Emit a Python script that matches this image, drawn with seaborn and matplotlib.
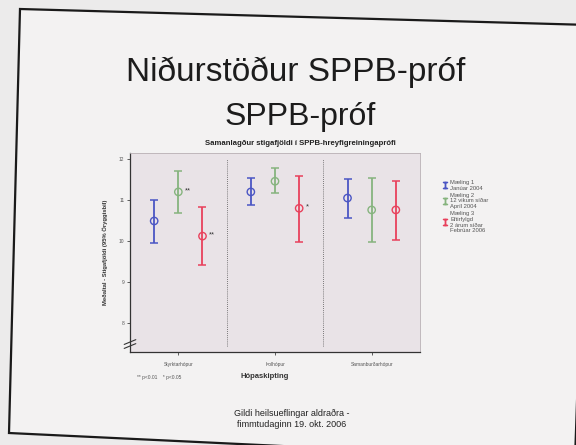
import seaborn as sns
import matplotlib.pyplot as plt
import pandas as pd
from matplotlib.lines import Line2D

# data
groups = ["Styrktarhópur", "Þolhópur", "Samanburðarhópur"]
series = ["Mæling 1\nJanúar 2004",
          "Mæling 2\n12 vikum síðar\nApríl 2004",
          "Mæling 3\nEftirfylgd\n2 árum síðar\nFebrúar 2006"]
means_1 = [10.49, 11.20, 11.05]
low_1 = [9.95, 10.88, 10.56]
high_1 = [11.00, 11.54, 11.51]
means_2 = [11.20, 11.46, 10.76]
low_2 = [10.68, 11.17, 9.98]
high_2 = [11.70, 11.78, 11.54]
means_3 = [10.12, 10.80, 10.76]
low_3 = [9.42, 9.98, 10.02]
high_3 = [10.83, 11.58, 11.46]
stars = {(0, 1): "**", (0, 2): "**", (1, 2): "*"}

colors = ["#4b56c4", "#86b47e", "#e8415c"]
offsets = [-0.25, 0.0, 0.25]

sns.set_theme(style="white")
plt.rcParams['font.family'] = ['Liberation Sans', 'DejaVu Sans']

fig = plt.figure(figsize=(5.76, 4.45), dpi=100)
fig.patch.set_facecolor("#ecebeb")

W, H = 576, 445
def fx(x): return x / W
def fy(y): return 1 - y / H

# slide border (photo is a bit skewed)
xs = [20, 590, 575, 9, 20]
ys = [9, 25, 460, 433, 9]
fig.patches.append(plt.Polygon(list(zip([fx(v) for v in xs], [fy(v) for v in ys])),
                               closed=True, fc="#f3f2f2", ec="#1a1a1a", lw=1.6,
                               transform=fig.transFigure, zorder=-5))

fig.text(fx(296), fy(72), "Niðurstöður SPPB-próf", ha="center", va="center",
         fontsize=24, color="#1c1c1c")
fig.text(fx(300), fy(117), "SPPB-próf", ha="center", va="center",
         fontsize=23, color="#1c1c1c")
fig.text(fx(300), fy(143), "Samanlagður stigafjöldi í SPPB-hreyfigreiningaprófi",
         ha="center", va="center", fontsize=5.6, fontweight="bold", color="#222222")

ax = fig.add_axes([fx(130), fy(352), fx(420) - fx(130), fy(153) - fy(352)])
ax.set_facecolor("#e9e3e7")

rows = []
for k, (m, lo, hi) in enumerate([(means_1, low_1, high_1),
                                  (means_2, low_2, high_2),
                                  (means_3, low_3, high_3)]):
    for g in range(len(groups)):
        rows.append({"x": g + offsets[k], "mean": m[g], "lo": lo[g], "hi": hi[g],
                     "series": series[k]})
df = pd.DataFrame(rows)

for k, s in enumerate(series):
    d = df[df["series"] == s]
    ax.errorbar(d["x"], d["mean"], yerr=[d["mean"] - d["lo"], d["hi"] - d["mean"]],
                fmt="none", ecolor=colors[k], elinewidth=1.3, capsize=2.6,
                capthick=1.1)

sns.scatterplot(data=df, x="x", y="mean", hue="series", palette=colors,
                marker="o", s=28, linewidth=1.0, legend=False, ax=ax, zorder=5)
# open circles
coll = ax.collections[-1]
coll.set_facecolor("none")
coll.set_edgecolors([colors[series.index(s)] for s in df["series"]])

for (g, k), txt in stars.items():
    m = [means_1, means_2, means_3][k][g]
    ax.text(g + offsets[k] + 0.07, m + 0.03, txt, fontsize=5.5, va="center",
            color="#333333")

for xv in [0.5, 1.5]:
    ax.axvline(xv, ymin=0.03, ymax=0.97, ls=(0, (1, 1.5)), color="#555555", lw=0.6)

ax.set_xlim(-0.5, 2.5)
ax.set_ylim(7.29, 12.15)
ax.set_xticks(range(3))
ax.set_xticklabels(groups, fontsize=3.5, color="#555555")
ax.set_yticks([8, 9, 10, 11, 12])
ax.set_yticklabels(["8", "9", "10", "11", "12"], fontsize=3.5, color="#555555")
ax.tick_params(axis="both", length=2, width=0.6, pad=2, color="#444444", left=True, bottom=True)
ax.tick_params(axis="x", pad=5)
ax.set_xlabel("")
ax.set_ylabel("Meðaltal - Stigafjöldi (95% Öryggisbil)", fontsize=4.2,
              fontweight="bold", color="#333333", labelpad=8)
for side in ["top", "right"]:
    ax.spines[side].set_color("#b8b0b4")
    ax.spines[side].set_linewidth(0.6)
for side in ["left", "bottom"]:
    ax.spines[side].set_color("#333333")
    ax.spines[side].set_linewidth(0.9)

# axis break marks
for dy in [0.03, 0.05]:
    ax.plot([-0.02, 0.02], [dy - 0.012, dy + 0.012], transform=ax.transAxes,
            color="#333333", lw=0.8, clip_on=False)

handles = [Line2D([], [], color=c, marker=r"$\mathtt{I}$", linestyle="none",
                  markersize=5) for c in colors]
ax.legend(handles, series, loc="upper left", bbox_to_anchor=(1.06, 0.89),
          frameon=False, fontsize=4.2, handlelength=0.8, handletextpad=0.5,
          labelspacing=0.3, labelcolor="#555555")

fig.text(fx(265), fy(377), "Hópaskipting", ha="center", va="center",
         fontsize=5.5, fontweight="bold", color="#333333")
fig.text(fx(137), fy(377), "** p<0.01    * p<0.05", ha="left", va="center",
         fontsize=3.5, color="#555555")
fig.text(fx(292), fy(419), "Gildi heilsueflingar aldraðra -\nfimmtudaginn 19. okt. 2006",
         ha="center", va="center", fontsize=6.5, color="#222222", linespacing=1.3)

fig.savefig("out.png", dpi=100, facecolor=fig.get_facecolor())
